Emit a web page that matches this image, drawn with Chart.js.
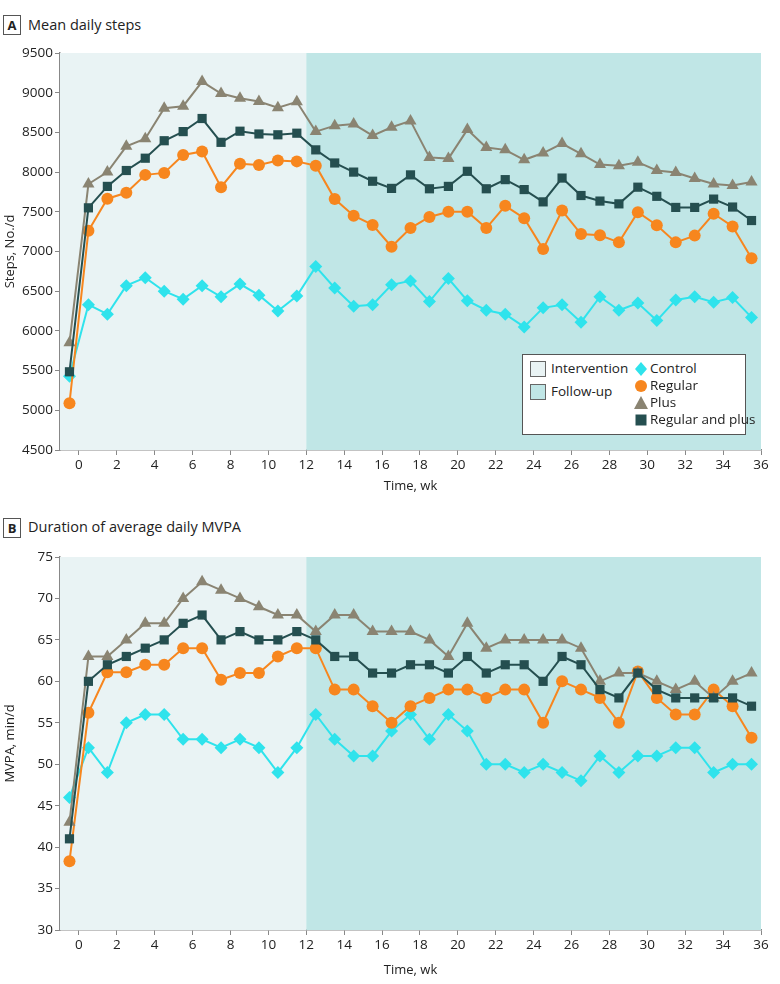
<!DOCTYPE html>
<html>
<head>
  <title>Mean daily steps and MVPA</title>
  <script src="https://cdn.jsdelivr.net/npm/chart.js"></script>
  <style>
    body{
        margin:0px;
        padding:0px;
        background-color:white;
        font-family:"Open Sans", sans-serif;
        color:#222;
    }
    .panel{
        position:absolute;
        left:0px;
        width:780px;
    }
    #panelA{ top:0px; height:500px; }
    #panelB{ top:500px; height:484px; }
    .tag{
        position:absolute;
        left:3px;
        width:16px;
        height:18px;
        border:1px solid #555;
        font-weight:bold;
        font-size:13px;
        line-height:18px;
        text-align:center;
    }
    .title{
        position:absolute;
        left:28px;
        font-size:14.5px;
    }
    #legend{
        position:absolute;
        left:522px;
        top:354px;
        width:222px;
        height:79px;
        border:1px solid #555;
        background:white;
        font-size:13.5px;
    }
    #legend .sw{
        position:absolute;
        left:7px;
        width:14px;
        height:14px;
        border:1px solid #666;
    }
    #legend .txt{ position:absolute; white-space:nowrap; }
    #legend canvas{ position:absolute; left:110px; top:6px; }
  </style>
</head>
<body>
  <div class="tag" style="top:15px">A</div>
  <div class="title" style="top:15px">Mean daily steps</div>
  <div class="tag" style="top:518px">B</div>
  <div class="title" style="top:517px">Duration of average daily MVPA</div>

  <div class="panel" id="panelA"><canvas id="chartA"></canvas></div>
  <div class="panel" id="panelB"><canvas id="chartB"></canvas></div>

  <div id="legend">
    <div class="sw" style="top:6px;background:#e9f3f4"></div>
    <div class="txt" style="left:28px;top:4px">Intervention</div>
    <div class="sw" style="top:29px;background:#c0e6e6"></div>
    <div class="txt" style="left:28px;top:27px">Follow-up</div>
    <canvas id="legMarks" width="16" height="70"></canvas>
    <div class="txt" style="left:127px;top:4px">Control</div>
    <div class="txt" style="left:127px;top:21px">Regular</div>
    <div class="txt" style="left:127px;top:38px">Plus</div>
    <div class="txt" style="left:127px;top:55px">Regular and plus</div>
  </div>

  <script>
    // week midpoints of each measurement
    var weeks = [-0.5, 0.5, 1.5, 2.5, 3.5, 4.5, 5.5, 6.5, 7.5, 8.5, 9.5, 10.5, 11.5, 12.5, 13.5, 14.5, 15.5, 16.5, 17.5,
                 18.5, 19.5, 20.5, 21.5, 22.5, 23.5, 24.5, 25.5, 26.5, 27.5, 28.5, 29.5, 30.5, 31.5, 32.5, 33.5, 34.5, 35.5];
    var xTicks = [0, 2, 4, 6, 8, 10, 12, 14, 16, 18, 20, 22, 24, 26, 28, 30, 32, 34, 36];
    var stepsTicks = [4500, 5000, 5500, 6000, 6500, 7000, 7500, 8000, 8500, 9000, 9500];
    var mvpaTicks = [30, 35, 40, 45, 50, 55, 60, 65, 70, 75];

    // panel A: mean daily steps
    var stepsControl = [5430, 6330, 6210, 6570, 6670, 6500, 6400, 6570, 6430, 6590, 6450, 6250, 6440, 6810, 6540, 6310, 6330, 6580, 6630,
                        6370, 6660, 6380, 6260, 6210, 6050, 6290, 6330, 6110, 6430, 6260, 6350, 6130, 6390, 6430, 6360, 6420, 6170];
    var stepsRegular = [5090, 7260, 7665, 7740, 7965, 7990, 8215, 8260, 7810, 8105, 8090, 8145, 8135, 8080, 7660, 7450, 7335, 7060, 7295,
                        7435, 7500, 7500, 7295, 7575, 7420, 7030, 7515, 7220, 7205, 7115, 7495, 7330, 7115, 7200, 7475, 7315, 6915];
    var stepsPlus = [5850, 7850, 8000, 8325, 8420, 8805, 8830, 9140, 8990, 8930, 8890, 8810, 8885, 8510, 8585, 8605, 8460, 8565, 8645,
                     8185, 8170, 8535, 8310, 8280, 8155, 8240, 8360, 8230, 8095, 8080, 8125, 8020, 7995, 7920, 7850, 7830, 7875];
    var stepsBoth = [5485, 7550, 7820, 8020, 8175, 8395, 8510, 8675, 8375, 8515, 8480, 8470, 8490, 8280, 8115, 8000, 7885, 7795, 7965,
                     7790, 7820, 8010, 7790, 7905, 7780, 7625, 7925, 7705, 7635, 7600, 7810, 7695, 7555, 7555, 7660, 7560, 7390];

    // panel B: duration of average daily MVPA, min/d
    var mvpaControl = [46, 52, 49, 55, 56, 56, 53, 53, 52, 53, 52, 49, 52, 56, 53, 51, 51, 54, 56,
                       53, 56, 54, 50, 50, 49, 50, 49, 48, 51, 49, 51, 51, 52, 52, 49, 50, 50];
    var mvpaRegular = [38.3, 56.2, 61.1, 61.1, 62, 62, 64, 64, 60.2, 61, 61, 63, 64, 64, 59, 59, 57, 55, 57,
                       58, 59, 59, 58, 59, 59, 55, 60, 59, 58, 55, 61.2, 58, 56, 56, 59, 57, 53.2];
    var mvpaPlus = [43, 63, 63, 65, 67, 67, 70, 72, 71, 70, 69, 68, 68, 66, 68, 68, 66, 66, 66,
                    65, 63, 67, 64, 65, 65, 65, 65, 64, 60, 61, 61, 60, 59, 60, 58, 60, 61];
    var mvpaBoth = [41, 60, 62, 63, 64, 65, 67, 68, 65, 66, 65, 65, 66, 65, 63, 63, 61, 61, 62,
                    62, 61, 63, 61, 62, 62, 60, 63, 62, 59, 58, 61, 59, 58, 58, 58, 58, 57];

    var intervention = [-1, 12];
    var followUp = [12, 36];

    var groups = [
      {name: 'Control', color: '#2fe3ec', shape: 'rectRot', r: 6.5},
      {name: 'Regular', color: '#f7861e', shape: 'circle', r: 6},
      {name: 'Plus', color: '#8a8472', shape: 'triangle', r: 7},
      {name: 'Regular and plus', color: '#254f50', shape: 'rect', r: 6.5}
    ];

    Chart.defaults.font.family = '"Open Sans", sans-serif';
    Chart.defaults.font.size = 13.5;
    Chart.defaults.color = '#222';

    var bands = {
      id: 'bands',
      beforeDatasetsDraw: function(chart) {
        var ctx = chart.ctx, a = chart.chartArea, x = chart.scales.x;
        ctx.save();
        ctx.fillStyle = '#e9f3f4';
        ctx.fillRect(x.getPixelForValue(intervention[0]), a.top,
                     x.getPixelForValue(intervention[1]) - x.getPixelForValue(intervention[0]), a.bottom - a.top);
        ctx.fillStyle = '#c0e6e6';
        ctx.fillRect(x.getPixelForValue(followUp[0]), a.top,
                     x.getPixelForValue(followUp[1]) - x.getPixelForValue(followUp[0]), a.bottom - a.top);
        ctx.restore();
      }
    };

    function makeChart(id, series, yTicks, yTitle, padTop, xHeight) {
      var datasets = series.map(function(vals, i) {
        var g = groups[i];
        return {
          label: g.name,
          data: vals.map(function(v, j) { return {x: weeks[j], y: v}; }),
          borderColor: g.color,
          backgroundColor: g.color,
          borderWidth: 2,
          pointStyle: g.shape,
          pointRadius: g.r,
          pointBorderWidth: 0,
          tension: 0,
          order: 3 - i
        };
      });
      return new Chart(document.getElementById(id), {
        type: 'line',
        data: {datasets: datasets},
        plugins: [bands],
        options: {
          responsive: true,
          maintainAspectRatio: false,
          animation: false,
          layout: {padding: {top: padTop, right: 19, left: 0, bottom: 0}},
          plugins: {legend: {display: false}, tooltip: {enabled: false}},
          scales: {
            x: {
              type: 'linear',
              min: -1,
              max: 36,
              afterBuildTicks: function(axis) { axis.ticks = xTicks.map(function(v) { return {value: v}; }); },
              afterFit: function(axis) { axis.height = xHeight; },
              grid: {drawOnChartArea: false, color: '#888', tickLength: 5},
              border: {color: '#888', width: 1.5},
              ticks: {padding: 2, maxRotation: 0, autoSkip: false, callback: function(v) { return String(v); }},
              title: {display: true, text: 'Time, wk', font: {size: 13}, padding: {top: 0, bottom: 6}}
            },
            y: {
              min: yTicks[0],
              max: yTicks[yTicks.length - 1],
              afterBuildTicks: function(axis) { axis.ticks = yTicks.map(function(v) { return {value: v}; }); },
              afterFit: function(axis) { axis.width = 60; },
              grid: {drawOnChartArea: false, color: '#888', tickLength: 5},
              border: {color: '#888', width: 1.5},
              ticks: {padding: 2, callback: function(v) { return String(v); }},
              title: {display: true, text: yTitle, font: {size: 13}, padding: {top: 2, bottom: 0}}
            }
          }
        }
      });
    }

    makeChart('chartA', [stepsControl, stepsRegular, stepsPlus, stepsBoth], stepsTicks, 'Steps, No./d', 53, 50);
    makeChart('chartB', [mvpaControl, mvpaRegular, mvpaPlus, mvpaBoth], mvpaTicks, 'MVPA, min/d', 57, 54);

    // legend markers
    var lc = document.getElementById('legMarks').getContext('2d');
    groups.forEach(function(g, i) {
      lc.fillStyle = g.color;
      var cx = 8, cy = 8 + i * 17;
      lc.beginPath();
      if (g.shape === 'rectRot') { lc.moveTo(cx, cy - 7); lc.lineTo(cx + 6, cy); lc.lineTo(cx, cy + 7); lc.lineTo(cx - 6, cy); }
      else if (g.shape === 'circle') { lc.arc(cx, cy, 6, 0, Math.PI * 2); }
      else if (g.shape === 'triangle') { lc.moveTo(cx, cy - 7); lc.lineTo(cx + 7, cy + 6); lc.lineTo(cx - 7, cy + 6); }
      else { lc.rect(cx - 5.5, cy - 5.5, 11, 11); }
      lc.fill();
    });
  </script>
</body>
</html>
